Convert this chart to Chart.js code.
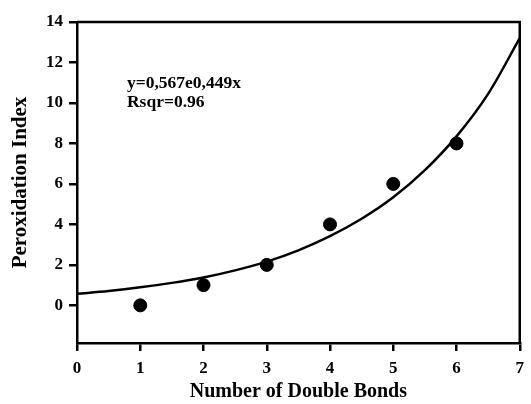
<!DOCTYPE html>
<html><head><meta charset="utf-8">
<script src="https://cdn.jsdelivr.net/npm/chart.js@4"></script>
<style>html,body{margin:0;padding:0;background:#fff}#wrap{width:531px;height:404px}</style>
</head><body><div id="wrap"><canvas id="c" width="531" height="404"></canvas></div>
<script>
const doubleBonds = [1, 2, 3, 4, 5, 6];
const peroxidationIndex = [0, 1, 2, 4, 6, 8];
const fitX = [0, 0.5, 1, 1.5, 2, 2.5, 3, 3.5, 4, 4.5, 5, 5.5, 6, 6.5, 7];
const fitY = [0.57, 0.71, 0.89, 1.11, 1.38, 1.73, 2.16, 2.72, 3.42, 4.28, 5.34, 6.68, 8.35, 10.45, 13.2];
const yTickValues = [0, 2, 4, 6, 8, 10, 12, 14];
const xTickValues = [0, 1, 2, 3, 4, 5, 6, 7];
const annotationLines = ['y=0,567e0,449x', 'Rsqr=0.96'];

const serif = '"Liberation Serif", "Times New Roman", serif';

const framePlugin = {
  id: 'frame',
  afterDraw(chart) {
    const {ctx, chartArea: a, scales} = chart;
    ctx.save();
    ctx.strokeStyle = '#000';
    ctx.lineWidth = 2.5;
    ctx.beginPath();
    ctx.moveTo(a.left, a.top); ctx.lineTo(a.right, a.top); ctx.lineTo(a.right, a.bottom);
    ctx.stroke();
    ctx.fillStyle = '#000';
    ctx.font = 'bold 17.5px ' + serif;
    ctx.textBaseline = 'alphabetic';
    const x0 = scales.x.getPixelForValue(0.79);
    const y0 = scales.y.getPixelForValue(10.75);
    annotationLines.forEach((t, i) => ctx.fillText(t, x0, y0 + i * 19));
    ctx.restore();
  }
};

new Chart(document.getElementById('c'), {
  data: {
    datasets: [
      {
        type: 'line',
        data: fitX.map((x, i) => ({x, y: fitY[i]})),
        borderColor: '#000', borderWidth: 2.5, pointRadius: 0,
        cubicInterpolationMode: 'monotone', fill: false, clip: false
      },
      {
        type: 'scatter',
        data: doubleBonds.map((x, i) => ({x, y: peroxidationIndex[i]})),
        backgroundColor: '#000', borderColor: '#000', pointRadius: 6.5
      }
    ]
  },
  options: {
    responsive: false, animation: false,
    layout: {padding: {top: 22, right: 3, left: 0, bottom: 0}},
    plugins: {legend: {display: false}, tooltip: {enabled: false}},
    scales: {
      x: {
        type: 'linear', min: 0, max: 7,
        afterBuildTicks: s => { s.ticks = xTickValues.map(v => ({value: v})); },
        afterFit: s => { s.height = 61; },
        border: {display: true, color: '#000', width: 2.5},
        grid: {drawOnChartArea: false, drawTicks: true, tickLength: 8, color: '#000', lineWidth: 2.5},
        ticks: {color: '#000', padding: 7, font: {family: serif, size: 17, weight: 'bold'}, maxRotation: 0},
        title: {display: true, text: 'Number of Double Bonds', color: '#000', padding: {top: 0, bottom: 0}, font: {family: serif, size: 20, weight: 'bold'}}
      },
      y: {
        type: 'linear', min: -1.86, max: 14,
        afterBuildTicks: s => { s.ticks = yTickValues.map(v => ({value: v})); },
        afterFit: s => { s.width = 77; },
        border: {display: true, color: '#000', width: 2.5},
        grid: {drawOnChartArea: false, drawTicks: true, tickLength: 8, color: '#000', lineWidth: 2.5},
        ticks: {color: '#000', padding: 6, font: {family: serif, size: 17, weight: 'bold'}},
        title: {display: true, text: 'Peroxidation Index', color: '#000', padding: {top: 8, bottom: 0}, font: {family: serif, size: 21, weight: 'bold'}}
      }
    }
  },
  plugins: [framePlugin]
});
</script>
</body></html>
